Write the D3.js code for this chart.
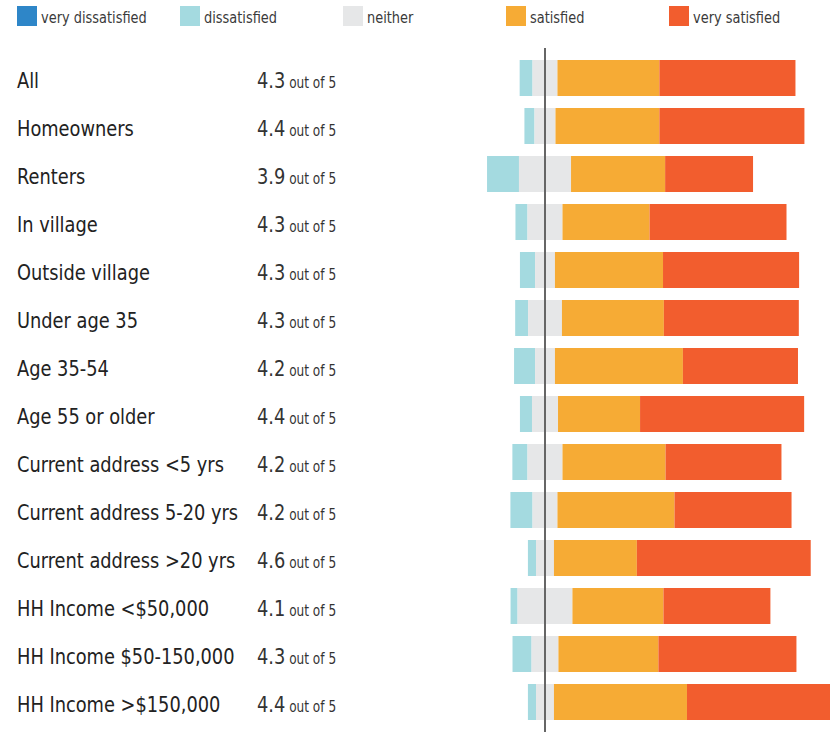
<!DOCTYPE html>
<html>
<head>
<meta charset="utf-8">
<script src="https://cdnjs.cloudflare.com/ajax/libs/d3/7.8.5/d3.min.js"></script>
<style>
  body { margin: 0; background: #fff; }
  text { font-family: "Liberation Sans Narrow", "DejaVu Sans Condensed", sans-serif; }
</style>
</head>
<body>
<div id="chart"></div>
<script>
// groups, top to bottom
var categories = ["All", "Homeowners", "Renters", "In village", "Outside village",
  "Under age 35", "Age 35-54", "Age 55 or older", "Current address <5 yrs",
  "Current address 5-20 yrs", "Current address >20 yrs", "HH Income <$50,000",
  "HH Income $50-150,000", "HH Income >$150,000"];
var scores = [4.3, 4.4, 3.9, 4.3, 4.3, 4.3, 4.2, 4.4, 4.2, 4.2, 4.6, 4.1, 4.3, 4.4];

// percent of answers
var veryDissatisfied = [0, 0, 0, 0, 0, 0, 0, 0, 0, 0, 0, 0, 0, 0];
var dissatisfied = [4.6, 3.6, 11.4, 4.3, 5.4, 4.6, 7.5, 4.3, 5.4, 7.9, 2.9, 2.5, 6.8, 2.9];
var neither = [8.9, 7.5, 18.6, 12.5, 7.1, 12.1, 7.1, 9.3, 12.5, 8.9, 6.4, 19.6, 9.6, 6.4];
var satisfied = [36.4, 37.1, 33.6, 31.1, 38.6, 36.4, 45.7, 29.3, 36.8, 41.8, 29.6, 32.5, 35.7, 47.5];
var verySatisfied = [48.6, 51.8, 31.4, 48.9, 48.6, 48.2, 41.1, 58.6, 41.4, 41.8, 62.1, 38.2, 49.3, 52];

var legendNames = ["very dissatisfied", "dissatisfied", "neither", "satisfied", "very satisfied"];
var colors = ["#2e86c8", "#a4dae0", "#e6e7e8", "#f6ab35", "#f25d2e"];

var width = 830, height = 738;
var zeroX = 545, pxPerPct = 2.8;
var squeeze = 0.9; // the original type is narrower than anything installed

var svg = d3.select("#chart").append("svg")
    .attr("width", width)
    .attr("height", height);

var x = d3.scaleLinear()
    .domain([-20, 100])
    .range([zeroX - 20 * pxPerPct, zeroX + 100 * pxPerPct]);

var y = d3.scaleBand()
    .domain(categories)
    .range([54, 726])
    .paddingInner(0.25)
    .paddingOuter(0.125);

// legend
var legend = svg.selectAll(".legend")
    .data(legendNames)
  .enter().append("g")
    .attr("class", "legend")
    .attr("transform", function(d, i) { return "translate(" + (17 + i * 163) + ",6)"; });

legend.append("rect")
    .attr("width", 20)
    .attr("height", 20)
    .style("fill", function(d, i) { return colors[i]; });

legend.append("text")
    .attr("transform", "translate(24,17) scale(" + squeeze + ",1)")
    .style("font-size", "16px")
    .style("fill", "#3a3a3a")
    .text(function(d) { return d; });

// stack each row so "neither" sits centred on zero
var rows = categories.map(function(c, i) {
  var vals = [veryDissatisfied[i], dissatisfied[i], neither[i], satisfied[i], verySatisfied[i]];
  var start = -(vals[0] + vals[1] + vals[2] / 2);
  var segs = [];
  vals.forEach(function(v, k) {
    segs.push({cat: c, k: k, x0: start, x1: start + v});
    start += v;
  });
  return {cat: c, score: scores[i], segs: segs};
});

var row = svg.selectAll(".row")
    .data(rows)
  .enter().append("g")
    .attr("class", "row");

row.selectAll("rect")
    .data(function(d) { return d.segs.filter(function(s) { return s.x1 > s.x0; }); })
  .enter().append("rect")
    .attr("x", function(s) { return x(s.x0); })
    .attr("width", function(s) { return x(s.x1) - x(s.x0); })
    .attr("y", function(s) { return y(s.cat); })
    .attr("height", y.bandwidth())
    .style("fill", function(s) { return colors[s.k]; });

row.append("text")
    .attr("transform", function(d) {
      return "translate(17," + (y(d.cat) + y.bandwidth() / 2 + 10) + ") scale(" + squeeze + ",1)";
    })
    .style("font-size", "22px")
    .style("fill", "#222")
    .text(function(d) { return d.cat; });

var sc = row.append("text")
    .attr("transform", function(d) {
      return "translate(257," + (y(d.cat) + y.bandwidth() / 2 + 10) + ") scale(" + squeeze + ",1)";
    })
    .style("font-size", "22px")
    .style("fill", "#333");
sc.append("tspan").text(function(d) { return d3.format(".1f")(d.score); });
sc.append("tspan").style("font-size", "15px").text(" out of 5");

// zero line
svg.append("line")
    .attr("x1", x(0)).attr("x2", x(0))
    .attr("y1", 48).attr("y2", 732)
    .style("stroke", "#666")
    .style("stroke-width", 2);
</script>
</body>
</html>
